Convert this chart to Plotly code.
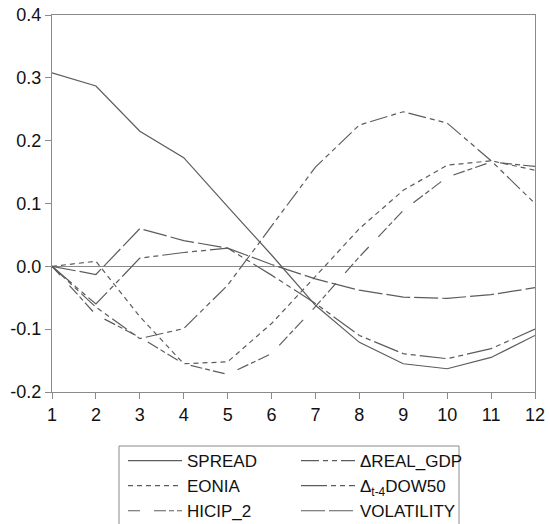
import plotly.graph_objects as go

# Impulse responses over a 12-period horizon
periods = list(range(1, 13))

spread = [0.308, 0.287, 0.215, 0.173, 0.095, 0.018, -0.062, -0.121, -0.155, -0.163, -0.145, -0.110]
eonia = [0.0, 0.008, -0.080, -0.155, -0.152, -0.091, -0.016, 0.060, 0.121, 0.161, 0.168, 0.153]
hicip_2 = [0.0, -0.077, -0.113, -0.155, -0.172, -0.139, -0.064, 0.015, 0.089, 0.142, 0.166, 0.159]
real_gdp = [0.0, -0.065, -0.115, -0.099, -0.030, 0.064, 0.158, 0.225, 0.246, 0.228, 0.168, 0.100]
dow50 = [0.0, -0.060, 0.013, 0.022, 0.029, -0.014, -0.059, -0.110, -0.139, -0.147, -0.131, -0.100]
volatility = [0.0, -0.013, 0.060, 0.041, 0.029, 0.003, -0.020, -0.038, -0.049, -0.051, -0.045, -0.034]

y_tickvals = [-0.2, -0.1, 0.0, 0.1, 0.2, 0.3, 0.4]
y_ticktext = ["-0.2", "-0.1", "0.0", "0.1", "0.2", "0.3", "0.4"]

FONT = "Liberation Sans, Arial, sans-serif"
LINE = "#5c5c5c"

# (name, values, dash pattern) -- listed row by row for the two-column legend
series = [
    ("SPREAD", spread, "solid"),
    ("\u0394REAL_GDP", real_gdp, "18px,4px,5px,4px,5px,4px"),
    ("EONIA", eonia, "5px,4px"),
    ("\u0394<sub>t-4</sub>DOW50", dow50, "26px,4px,5px,4px,5px,4px"),
    ("HICIP_2", hicip_2, "12px,14px,12px,3px,5px,3px"),
    ("VOLATILITY", volatility, "24px,4px"),
]

fig = go.Figure()
for name, values, dash in series:
    fig.add_trace(go.Scatter(
        x=periods, y=values, name=name, mode="lines",
        line=dict(color=LINE, width=1.2, dash=dash),
    ))

W, H = 550, 524
ml, mr, mt, mb = 52, 15, 15, 132
pw, ph = W - ml - mr, H - mt - mb


def px_x(px):
    return (px - ml) / pw


def px_y(py):
    return (H - mb - py) / ph


axis_common = dict(
    showgrid=False, showline=True, linecolor="#8a8a8a", linewidth=1, mirror=True,
    ticks="outside", ticklen=6, tickwidth=1, tickcolor="#8a8a8a",
    tickfont=dict(family=FONT, size=18, color="#111111"),
)

fig.update_layout(
    width=W, height=H,
    margin=dict(l=ml, r=mr, t=mt, b=mb, autoexpand=False),
    paper_bgcolor="white", plot_bgcolor="white",
    font=dict(family=FONT, size=18, color="#111111"),
    xaxis=dict(range=[1, 12], tickvals=periods, zeroline=False, **axis_common),
    yaxis=dict(range=[-0.2, 0.4], tickvals=y_tickvals, ticktext=y_ticktext,
               zeroline=True, zerolinecolor="#8a8a8a", zerolinewidth=1, **axis_common),
    showlegend=True,
    legend=dict(
        orientation="h", x=px_x(123), xanchor="left", y=px_y(443), yanchor="top",
        entrywidth=104, entrywidthmode="pixels", itemwidth=54,
        font=dict(family=FONT, size=17, color="#111111"),
        bgcolor="rgba(0,0,0,0)", borderwidth=0, tracegroupgap=0,
    ),
    shapes=[dict(
        type="rect", xref="paper", yref="paper",
        x0=px_x(119), x1=px_x(459), y0=px_y(446), y1=px_y(560),
        line=dict(color="#8a8a8a", width=1), fillcolor="rgba(0,0,0,0)", layer="below",
    )],
)

fig.write_html("out.html")
